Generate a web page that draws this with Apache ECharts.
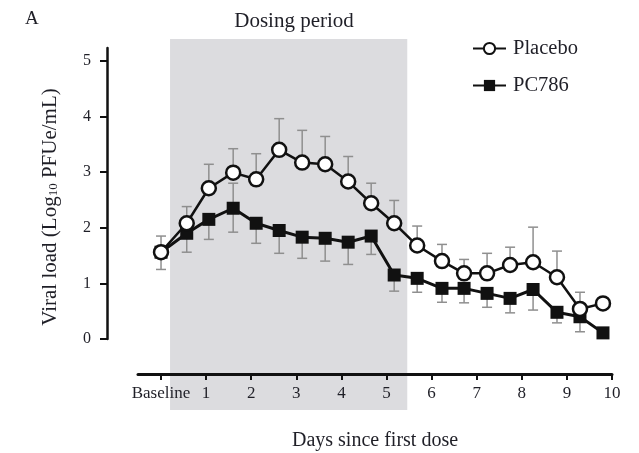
<!DOCTYPE html>
<html><head><meta charset="utf-8">
<script src="https://cdn.jsdelivr.net/npm/echarts@6/dist/echarts.min.js"></script>
<style>html,body{margin:0;padding:0;background:#fff}#c{width:639px;height:453px}</style>
</head><body><div id="c"></div>
<script>
// x positions (days since first dose)
const days = [0, 0.57, 1.06, 1.60, 2.11, 2.62, 3.13, 3.64, 4.15, 4.66, 5.17, 5.68, 6.23, 6.72, 7.23, 7.74, 8.25, 8.78, 9.29, 9.80];
const placebo      = [1.56, 2.08, 2.71, 2.99, 2.87, 3.40, 3.17, 3.14, 2.83, 2.44, 2.08, 1.68, 1.40, 1.18, 1.18, 1.33, 1.38, 1.11, 0.54, 0.64];
const placeboUpper = [1.85, 2.38, 3.14, 3.42, 3.33, 3.96, 3.75, 3.64, 3.28, 2.80, 2.49, 2.03, 1.70, 1.43, 1.54, 1.65, 2.01, 1.58, 0.84, null];
const pc786        = [1.56, 1.90, 2.15, 2.35, 2.08, 1.95, 1.83, 1.81, 1.74, 1.85, 1.15, 1.09, 0.91, 0.91, 0.82, 0.73, 0.89, 0.48, 0.40, 0.11];
const pc786Lower   = [1.25, 1.56, 1.79, 1.92, 1.72, 1.54, 1.45, 1.40, 1.34, 1.52, 0.86, 0.84, 0.66, 0.65, 0.57, 0.47, 0.52, 0.29, 0.13, null];
const pc786Upper   = [null, null, null, 2.80, null, null, null, null, null, null, null, null, null, null, null, null, null, null, null, null];
const xTickValues = [0, 1, 2, 3, 4, 5, 6, 7, 8, 9, 10];
const xTickLabels = ['Baseline', '1', '2', '3', '4', '5', '6', '7', '8', '9', '10'];
const yTickValues = [0, 1, 2, 3, 4, 5];
const dosingPeriod = [0.2, 5.46];

const FONT = "'Liberation Serif', 'DejaVu Serif', serif";
const TXT = '#1f1f27';
const ERR = '#8f8f8f';

function bars(vals, ends) {
  const out = [];
  for (let i = 0; i < days.length; i++) {
    if (ends[i] != null) out.push([days[i], vals[i], ends[i]]);
  }
  return out;
}
function errRender(params, api) {
  const x = api.value(0), a = api.value(1), b = api.value(2);
  const p0 = api.coord([x, a]), p1 = api.coord([x, b]);
  const cap = 5;
  return { type: 'group', children: [
    { type: 'line', shape: { x1: p0[0], y1: p0[1], x2: p1[0], y2: p1[1] }, style: { stroke: ERR, lineWidth: 1.5 } },
    { type: 'line', shape: { x1: p1[0] - cap, y1: p1[1], x2: p1[0] + cap, y2: p1[1] }, style: { stroke: ERR, lineWidth: 1.5 } }
  ]};
}

const chart = echarts.init(document.getElementById('c'), null, { renderer: 'canvas' });
chart.setOption({
  backgroundColor: '#fff',
  animation: false,
  title: [
    { text: 'A', left: 20, top: 5, textStyle: { fontFamily: FONT, fontSize: 19, fontWeight: 'normal', color: TXT } },
    { text: 'Dosing period', left: 289, top: 6, textAlign: 'center', textStyle: { fontFamily: FONT, fontSize: 21, fontWeight: 'normal', color: TXT } }
  ],
  legend: {
    data: ['Placebo', 'PC786'], orient: 'vertical', left: 467, top: 33,
    itemWidth: 33, itemHeight: 14, itemGap: 16,
    textStyle: { fontFamily: FONT, fontSize: 20.5, color: TXT, padding: [0, 0, 0, 2] }
  },
  graphic: [{
    type: 'text', x: 50, y: 207, rotation: Math.PI / 2,
    style: {
      text: 'Viral load (Log{sub|10} PFUe/mL)',
      fontFamily: FONT, fontSize: 21, fill: TXT, align: 'center', verticalAlign: 'middle',
      rich: { sub: { fontFamily: FONT, fontSize: 13, fill: TXT, verticalAlign: 'bottom' } }
    }
  }],
  grid: [
    { left: 107, right: 27, top: 48, bottom: 114 },
    { left: 107, right: 27, top: 39, bottom: 43 },
    { left: 138, right: 27, top: 300, bottom: 79 }
  ],
  xAxis: [
    { gridIndex: 0, type: 'value', min: -1.198, max: 10, show: false },
    { gridIndex: 1, type: 'value', min: -1.198, max: 10, show: false },
    { gridIndex: 2, type: 'value', min: -0.51, max: 10, z: 10,
      axisLine: { onZero: false, lineStyle: { color: '#111', width: 3 } },
      axisTick: { customValues: xTickValues, length: 6, lineStyle: { color: '#111', width: 2 } },
      axisLabel: { customValues: xTickValues, formatter: v => xTickLabels[xTickValues.indexOf(v)], fontFamily: FONT, fontSize: 17, color: TXT, margin: 11 },
      splitLine: { show: false },
      name: 'Days since first dose', nameLocation: 'middle', nameGap: 57,
      nameTextStyle: { fontFamily: FONT, fontSize: 20, color: TXT }
    }
  ],
  yAxis: [
    { gridIndex: 0, type: 'value', min: 0, max: 5.23, z: 10,
      axisLine: { show: true, onZero: false, lineStyle: { color: '#111', width: 2.5 } },
      axisTick: { show: true, customValues: yTickValues, length: 7, lineStyle: { color: '#111', width: 2 } },
      axisLabel: { customValues: yTickValues, fontFamily: FONT, fontSize: 16, color: TXT, margin: 16 },
      splitLine: { show: false }
    },
    { gridIndex: 1, type: 'value', min: 0, max: 1, show: false },
    { gridIndex: 2, type: 'value', min: 0, max: 1, show: false }
  ],
  series: [
    { name: 'shade', type: 'line', xAxisIndex: 1, yAxisIndex: 1, data: [], z: -1, silent: true,
      markArea: { silent: true, z: -1, itemStyle: { color: '#dcdcdf' }, data: [[{ xAxis: dosingPeriod[0] }, { xAxis: dosingPeriod[1] }]] } },
    { name: 'errP', type: 'custom', xAxisIndex: 0, yAxisIndex: 0, renderItem: errRender, data: bars(placebo, placeboUpper), z: 1, silent: true, clip: false },
    { name: 'errC', type: 'custom', xAxisIndex: 0, yAxisIndex: 0, renderItem: errRender, data: bars(pc786, pc786Lower).concat(bars(pc786, pc786Upper)), z: 1, silent: true, clip: false },
    { name: 'PC786', type: 'line', xAxisIndex: 0, yAxisIndex: 0, z: 3,
      data: days.map((d, i) => [d, pc786[i]]),
      symbol: 'rect', symbolSize: 13, showAllSymbol: true,
      itemStyle: { color: '#111' }, lineStyle: { color: '#111', width: 3 } },
    { name: 'Placebo', type: 'line', xAxisIndex: 0, yAxisIndex: 0, z: 4,
      data: days.map((d, i) => [d, placebo[i]]),
      symbol: 'circle', symbolSize: 14, showAllSymbol: true,
      itemStyle: { color: '#fff', borderColor: '#111', borderWidth: 2.5 }, lineStyle: { color: '#111', width: 2.5 } }
  ]
});
</script>
</body></html>
